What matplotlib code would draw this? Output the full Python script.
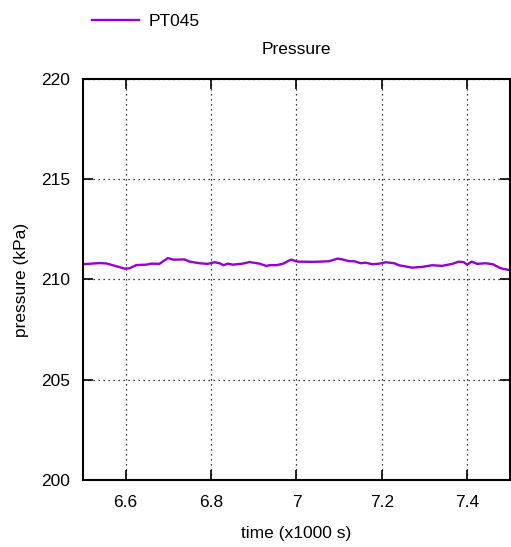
import matplotlib
matplotlib.use("Agg")
import matplotlib.pyplot as plt
import numpy as np

# PT045 pressure trace (time in x1000 s, pressure in kPa)
time = [6.500, 6.539, 6.555, 6.598, 6.609, 6.625, 6.648, 6.660, 6.679, 6.699,
        6.711, 6.738, 6.750, 6.773, 6.792, 6.808, 6.820, 6.829, 6.839, 6.851,
        6.874, 6.890, 6.913, 6.929, 6.940, 6.952, 6.968, 6.987, 7.003, 7.038,
        7.053, 7.076, 7.096, 7.108, 7.123, 7.135, 7.151, 7.161, 7.178, 7.194,
        7.209, 7.229, 7.240, 7.271, 7.295, 7.318, 7.341, 7.365, 7.380, 7.392,
        7.400, 7.410, 7.423, 7.443, 7.460, 7.478, 7.496, 7.500]
pressure = [210.76, 210.82, 210.80, 210.54, 210.56, 210.72, 210.74, 210.79, 210.78, 211.07,
            210.99, 211.00, 210.89, 210.81, 210.78, 210.86, 210.81, 210.71, 210.79, 210.74,
            210.79, 210.87, 210.79, 210.68, 210.72, 210.71, 210.78, 210.99, 210.89, 210.88,
            210.89, 210.91, 211.04, 211.00, 210.91, 210.91, 210.81, 210.84, 210.76, 210.79,
            210.86, 210.81, 210.71, 210.59, 210.63, 210.71, 210.68, 210.78, 210.89, 210.86,
            210.74, 210.89, 210.78, 210.81, 210.76, 210.56, 210.48, 210.47]

xticks = [6.6, 6.8, 7.0, 7.2, 7.4]
xticklabels = ["6.6", "6.8", "7", "7.2", "7.4"]
yticks = [200, 205, 210, 215, 220]

plt.rcParams['font.family'] = ['Liberation Sans', 'DejaVu Sans']

fig = plt.figure(figsize=(5.11, 5.47), dpi=100)
ax = fig.add_axes([0.1624, 0.1225, 0.8356, 0.7331])

ax.plot(time, pressure, color='#9400d3', lw=1.7, label='PT045')

ax.set_xlim(6.5, 7.5)
ax.set_ylim(200, 220)
ax.set_xticks(xticks)
ax.set_xticklabels(xticklabels)
ax.set_yticks(yticks)
ax.tick_params(direction='in', length=7, width=1.2, labelsize=12.5,
               top=True, right=True, pad=9)
ax.tick_params(axis='x', pad=11)
ax.grid(True, color='black', linestyle=(0, (1, 3)), lw=0.9)
for s in ax.spines.values():
    s.set_linewidth(1.5)

ax.set_xlabel('time (x1000 s)', fontsize=12.5, labelpad=11)
ax.set_ylabel('pressure (kPa)', fontsize=12.5, labelpad=9)
ax.set_title('Pressure', fontsize=12.5, pad=18)

fig.legend(loc='upper left', bbox_to_anchor=(0.15, 1.004), frameon=False,
           fontsize=12.5, handlelength=2.7, handletextpad=0.55)

fig.savefig('out.png', dpi=100)
